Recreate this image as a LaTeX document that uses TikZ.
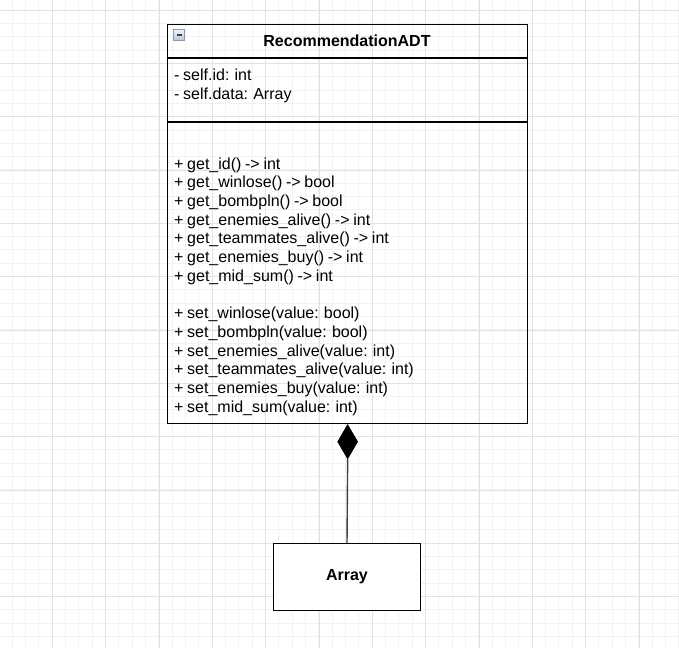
\documentclass[tikz,border=0pt]{standalone}
\usepackage{fontspec}
\setmainfont{Liberation Sans}
\newfontfamily\memberfamily[WordSpace=0.83]{Liberation Sans}
\usetikzlibrary{shapes.geometric}
\definecolor{gridminor}{HTML}{F2F2F2}
\definecolor{gridmajor}{HTML}{E2E2E2}
\definecolor{iconfillA}{HTML}{EEF2F7}
\definecolor{iconfillB}{HTML}{B9C6D5}
\definecolor{iconline}{HTML}{8C9BAE}
\tikzset{
  minorline/.style={draw=gridminor, line width=1pt},
  majorline/.style={draw=gridmajor, line width=1pt},
  classbox/.style={draw=black, line width=1.3pt, inner sep=0pt},
  arraybox/.style={draw=black, fill=white, line width=1.3pt, inner sep=0pt},
  sepline/.style={draw=black, line width=1.3pt},
  member/.style={anchor=base west, inner sep=0pt, font=\memberfamily\fontsize{16}{18.67}\selectfont},
  titletext/.style={anchor=base, inner sep=0pt, font=\fontsize{16}{18.67}\selectfont\bfseries},
  compdiamond/.style={diamond, draw=black, fill=black, line width=0.8pt, inner sep=0pt, minimum width=20pt, minimum height=34pt},
  connector/.style={draw=black!75, line width=1.4pt}
}
\begin{document}
\begin{tikzpicture}[x=1pt,y=-1pt]
\useasboundingbox (0,0) rectangle (679,648);
% grid
\foreach \i in {0,...,50} {
  \draw[minorline] ({12.33+13.333*\i},0) -- ({12.33+13.333*\i},648);
  \draw[minorline] (0,{10+13.333*\i}) -- (679,{10+13.333*\i});
}
\foreach \i in {0,...,13} {
  \draw[majorline] ({-1+53.333*\i},0) -- ({-1+53.333*\i},648);
  \draw[majorline] (0,{10+53.333*\i}) -- (679,{10+53.333*\i});
}
% class box
\node[classbox, minimum width=360pt, minimum height=399.5pt, anchor=north west] (cls) at (167,23.5) {};
\draw[sepline] (167,58) -- (527,58);
\draw[sepline] (167,122) -- (527,122);
% collapse icon
\shade[top color=iconfillA, bottom color=iconfillB, draw=iconline, line width=0.7pt] (173.8,29.8) rectangle (184.6,40.6);
\draw[black!75, line width=2pt] (176.6,35.2) -- (181.8,35.2);
\node[titletext] (title) at (347,46.7) {RecommendationADT};
% attributes
\node[member] (a1) at (174,80.7) {- self.id: int};
\node[member] (a2) at (174,99.3) {- self.data: Array};
% methods
\node[member] (m1) at (174,169.0) {+ get\_id() -> int};
\node[member] (m2) at (174,187.7) {+ get\_winlose() -> bool};
\node[member] (m3) at (174,206.3) {+ get\_bombpln() -> bool};
\node[member] (m4) at (174,225.0) {+ get\_enemies\_alive() -> int};
\node[member] (m5) at (174,243.7) {+ get\_teammates\_alive() -> int};
\node[member] (m6) at (174,262.3) {+ get\_enemies\_buy() -> int};
\node[member] (m7) at (174,281.0) {+ get\_mid\_sum() -> int};
\node[member] (s1) at (174,318.8) {+ set\_winlose(value: bool)};
\node[member] (s2) at (174,337.5) {+ set\_bombpln(value: bool)};
\node[member] (s3) at (174,356.1) {+ set\_enemies\_alive(value: int)};
\node[member] (s4) at (174,374.8) {+ set\_teammates\_alive(value: int)};
\node[member] (s5) at (174,393.5) {+ set\_enemies\_buy(value: int)};
\node[member] (s6) at (174,412.1) {+ set\_mid\_sum(value: int)};
% array box
\node[arraybox, minimum width=147pt, minimum height=66.6pt] (arr) at (347,577) {};
\node[titletext] (arrtext) at (347,580) {Array};
% composition
\node[compdiamond, anchor=north] (dia) at (cls.south) {};
\draw[connector] (dia.south) -- (arr.north);
\end{tikzpicture}
\end{document}
